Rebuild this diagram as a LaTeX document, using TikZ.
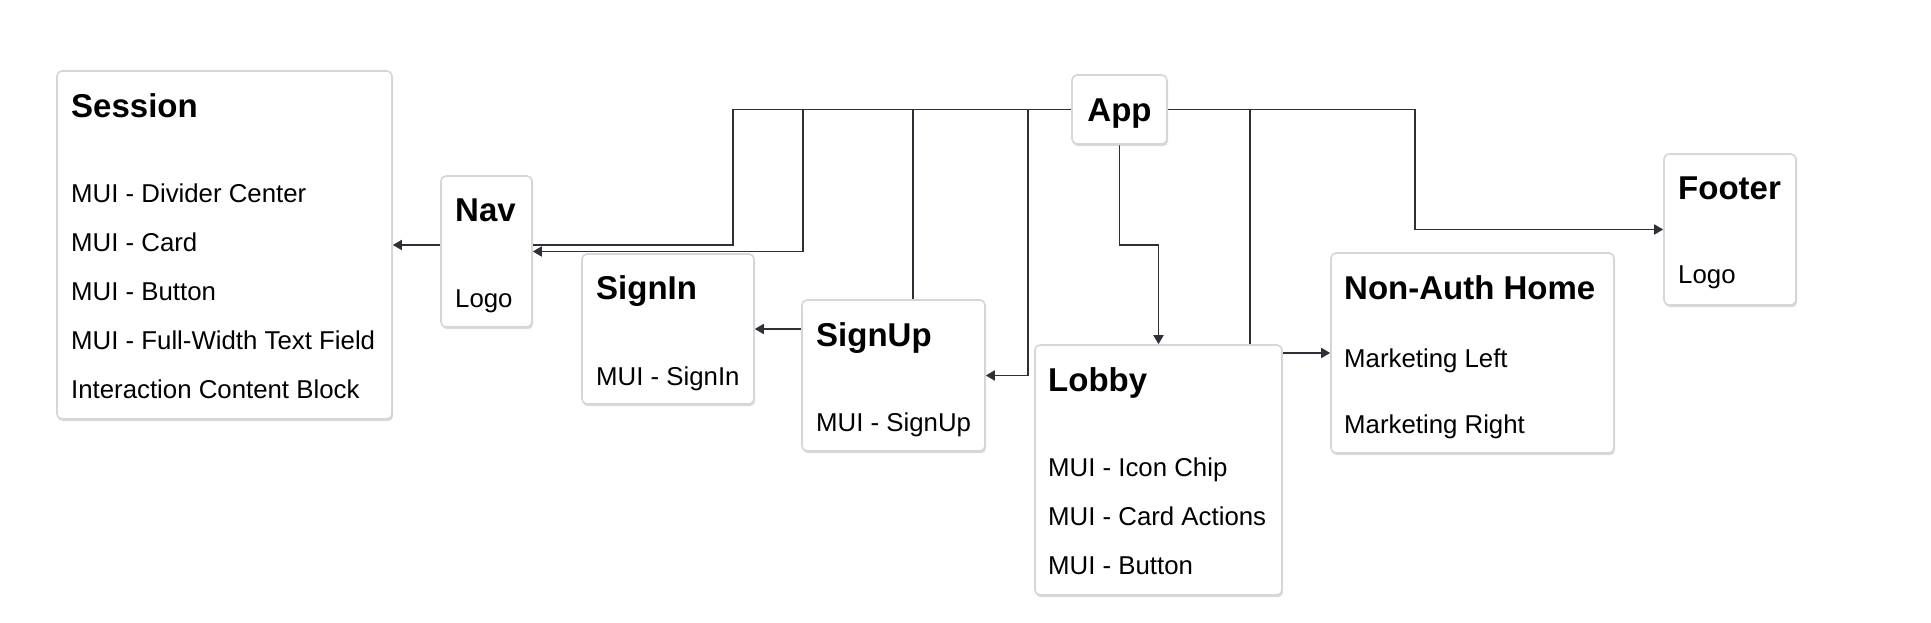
\documentclass[tikz,border=0pt]{standalone}
\usepackage{fontspec}
\setmainfont{Liberation Sans}
\usetikzlibrary{arrows.meta,shadows,calc}
\definecolor{linec}{HTML}{2E3038}
\definecolor{boxline}{HTML}{D6D6D6}
\pgfdeclarelayer{bg}
\pgfsetlayers{bg,main}
\tikzset{
 card/.style={draw=boxline, line width=1.6bp, fill=white, rounded corners=5bp, inner sep=0pt,
   drop shadow={shadow xshift=1bp, shadow yshift=-2.2bp, opacity=0.4, fill=black!35}},
 ttl/.style={anchor=base west, inner sep=0pt, font=\fontsize{33bp}{36bp}\selectfont\bfseries},
 itm/.style={anchor=base west, inner sep=0pt, font=\fontsize{25.8bp}{30bp}\selectfont},
 conn/.style={draw=linec, line width=1.7bp},
 arr/.style={conn, -{Triangle[length=9bp,width=10bp]}},
}
\begin{document}
\begin{tikzpicture}[x=1bp,y=-1bp]
\useasboundingbox (0,0) rectangle (1931,623);

% cards
\node[card, minimum width=335bp, minimum height=348bp] (session) at (224.5,245) {};
\node[card, minimum width=91bp,  minimum height=151bp] (nav)     at (486.5,251.5) {};
\node[card, minimum width=172bp, minimum height=150bp] (signin)  at (668,329) {};
\node[card, minimum width=183bp, minimum height=151bp] (signup)  at (893.5,375.5) {};
\node[card, minimum width=95bp,  minimum height=69bp]  (app)     at (1119.5,109.5) {};
\node[card, minimum width=247bp, minimum height=250bp] (lobby)   at (1158.5,470) {};
\node[card, minimum width=283bp, minimum height=200bp] (nonauth) at (1472.5,353) {};
\node[card, minimum width=132bp, minimum height=151bp] (footer)  at (1730,229.5) {};

% texts
\node[ttl] (tsession) at (71,117.5) {Session};
\node[itm] (s1) at (71,203) {MUI - Divider Center};
\node[itm] (s2) at (71,251.5) {MUI - Card};
\node[itm] (s3) at (71,300) {MUI - Button};
\node[itm] (s4) at (71,349) {MUI - Full-Width Text Field};
\node[itm] (s5) at (71,398) {Interaction Content Block};

\node[ttl] (tnav) at (455,221.5) {Nav};
\node[itm] (n1) at (455,307) {Logo};

\node[ttl] (tsignin) at (596,299.5) {SignIn};
\node[itm] (si1) at (596,385) {MUI - SignIn};

\node[ttl] (tsignup) at (816,346.5) {SignUp};
\node[itm] (su1) at (816,431) {MUI - SignUp};

\node[font=\fontsize{33bp}{36bp}\selectfont\bfseries, inner sep=0pt, anchor=base] (tapp) at (1119.5,121.5) {App};

\node[ttl] (tlobby) at (1048,391.5) {Lobby};
\node[itm] (l1) at (1048,476) {MUI - Icon Chip};
\node[itm] (l2) at (1048,525) {MUI - Card Actions};
\node[itm] (l3) at (1048,574) {MUI - Button};

\node[ttl] (tnonauth) at (1344,299.5) {Non-Auth Home};
\node[itm] (na1) at (1344,367) {Marketing Left};
\node[itm] (na2) at (1344,433) {Marketing Right};

\node[ttl] (tfooter) at (1678,199.5) {Footer};
\node[itm] (f1) at (1678,284) {Logo};

% connectors
\begin{pgfonlayer}{bg}
\fill[white] (0,0) rectangle (1931,623);
\coordinate (b1) at (733,245);
\coordinate (b2) at (803,251.5);
\coordinate (b3) at (913,300);
\coordinate (b4) at (1028,375.5);
\coordinate (b5) at (1250,353);
\coordinate (b6) at (1415,229.5);
\draw[arr] (nav.west |- session.east) -- (session.east);
\draw[conn] (app.west) -| (b1) -- (nav.east |- b1);
\draw[arr] (app.west) -| (b2) -- (nav.east);
\draw[conn] (app.west) -| (b3);
\draw[arr] (signup.west |- signin.east) -- (signin.east);
\draw[arr] (app.west) -| (b4) -- (signup.east);
\draw[arr] (app.south) -- ++(0,100) -| (lobby.north);
\draw[arr] (app.east) -| (b5) -- (nonauth.west);
\draw[arr] (app.east) -| (b6) -- (footer.west);
\end{pgfonlayer}
\end{tikzpicture}
\end{document}
